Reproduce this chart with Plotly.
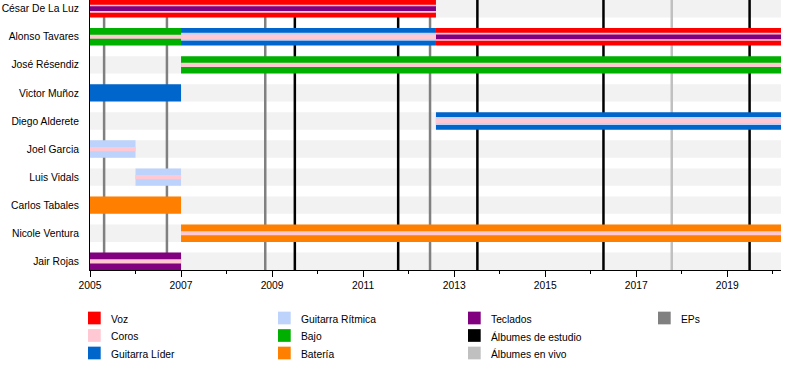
import plotly.graph_objects as go

# ---------------- data ----------------
END = 2020.18
START = 2005

members = ["César De La Luz", "Alonso Tavares", "José Résendiz", "Victor Muñoz",
           "Diego Alderete", "Joel Garcia", "Luis Vidals", "Carlos Tabales",
           "Nicole Ventura", "Jair Rojas"]

period_member = ["César De La Luz", "Alonso Tavares", "Alonso Tavares", "Alonso Tavares",
                 "José Résendiz", "Victor Muñoz", "Diego Alderete", "Joel Garcia",
                 "Luis Vidals", "Carlos Tabales", "Nicole Ventura", "Jair Rojas"]
period_start = [2005, 2005, 2007, 2012.6, 2007, 2005, 2012.6, 2005, 2006, 2005, 2007, 2005]
period_end = [2012.6, 2007, 2012.6, END, END, 2007, END, 2006, 2007, 2007, END, 2007]
period_roles = [
    ["Voz", "Coros", "Teclados"],
    ["Bajo", "Coros"],
    ["Guitarra Líder", "Guitarra Rítmica", "Coros"],
    ["Voz", "Coros", "Teclados"],
    ["Bajo", "Coros"],
    ["Guitarra Líder"],
    ["Guitarra Líder", "Guitarra Rítmica", "Coros"],
    ["Guitarra Rítmica", "Coros"],
    ["Guitarra Rítmica", "Coros"],
    ["Batería"],
    ["Batería", "Coros"],
    ["Teclados", "Coros"],
]

ep_dates = [2005.31, 2006.69, 2008.85, 2012.47]
studio_dates = [2009.50, 2011.77, 2013.51, 2016.28, 2019.49]
live_dates = [2017.78]

legend_labels = ["Voz", "Coros", "Guitarra Líder", "Guitarra Rítmica", "Bajo", "Batería",
                 "Teclados", "Álbumes de estudio", "Álbumes en vivo", "EPs"]

# ---------------- styles ----------------
colors = {
    "Voz": "#ff0000",
    "Coros": "#ffc8d2",
    "Guitarra Líder": "#0066cc",
    "Guitarra Rítmica": "#bdd3fb",
    "Bajo": "#00b000",
    "Batería": "#ff8000",
    "Teclados": "#800080",
    "Álbumes de estudio": "#000000",
    "Álbumes en vivo": "#c0c0c0",
    "EPs": "#808080",
}
role_order = ["Voz", "Guitarra Líder", "Guitarra Rítmica", "Bajo", "Batería", "Teclados", "Coros"]
level_widths = {1: [0.62], 2: [0.62, 0.15], 3: [0.62, 0.29, 0.17]}
BAND = 0.62
FONT = "Liberation Sans, Arial, sans-serif"
FS = 10.3

W, H = 800, 390
ML, MR, MT, MB = 90, 19, 0, 120
PW, PH = W - ML - MR, H - MT - MB

def px2x(px):
    return (px - ML) / PW

def px2y(py):
    return (H - MB - py) / PH

# ---------------- figure ----------------
fig = go.Figure()

groups = {}
for m, s, e, roles in zip(period_member, period_start, period_end, period_roles):
    widths = level_widths[len(roles)]
    for lvl, (r, w) in enumerate(zip(roles, widths)):
        g = groups.setdefault((lvl, r), {"y": [], "x": [], "base": [], "width": []})
        g["y"].append(members.index(m))
        g["x"].append(e - s)
        g["base"].append(s)
        g["width"].append(w)

for lvl in range(3):
    for r in role_order:
        g = groups.get((lvl, r))
        if not g:
            continue
        fig.add_trace(go.Bar(
            orientation="h", y=g["y"], x=g["x"], base=g["base"], width=g["width"],
            marker=dict(color=colors[r], line=dict(width=0)),
            name=r, showlegend=False, hoverinfo="skip",
        ))

y_lo, y_hi = -BAND / 2, len(members) - 1 + BAND / 2

shapes = []
for i, _ in enumerate(members):
    shapes.append(dict(type="rect", xref="x", yref="y", x0=START, x1=END,
                       y0=i - BAND / 2, y1=i + BAND / 2, fillcolor="#f2f2f2",
                       line=dict(width=0), layer="below"))
for dates, key in [(ep_dates, "EPs"), (studio_dates, "Álbumes de estudio"),
                   (live_dates, "Álbumes en vivo")]:
    for d in dates:
        shapes.append(dict(type="line", xref="x", yref="y", x0=d, x1=d, y0=y_lo, y1=y_hi,
                           line=dict(color=colors[key], width=2.5), layer="below"))

# manual legend (4 columns x 3 rows)
annotations = []
col_x = [88, 278, 468, 658]
row_y = [318, 335.5, 353]
SW = 12.7
for k, lab in enumerate(legend_labels):
    c, rr = divmod(k, 3)
    sx, sy = col_x[c], row_y[rr]
    shapes.append(dict(type="rect", xref="paper", yref="paper",
                       x0=px2x(sx), x1=px2x(sx + SW),
                       y0=px2y(sy + SW / 2), y1=px2y(sy - SW / 2),
                       fillcolor=colors[lab], line=dict(width=0)))
    annotations.append(dict(xref="paper", yref="paper", x=px2x(sx + 21), y=px2y(sy + 1),
                            text=lab, showarrow=False, xanchor="left", yanchor="middle",
                            font=dict(family=FONT, size=FS, color="#000000")))

fig.update_layout(
    width=W, height=H,
    margin=dict(l=ML, r=MR, t=MT, b=MB, pad=0),
    barmode="overlay",
    plot_bgcolor="white", paper_bgcolor="white",
    font=dict(family=FONT, size=FS, color="#000000"),
    shapes=shapes, annotations=annotations,
    showlegend=False,
    xaxis=dict(range=[START, END], showgrid=False, zeroline=False,
               showline=True, linecolor="black", linewidth=1,
               tick0=2005, dtick=2, ticks="outside", ticklen=6, tickcolor="black",
               tickwidth=1,
               minor=dict(tick0=2005, dtick=1, ticks="outside", ticklen=3,
                          tickcolor="black", showgrid=False),
               tickfont=dict(family=FONT, size=FS, color="#000000")),
    yaxis=dict(range=[y_hi, y_lo],
               tickvals=list(range(len(members))), ticktext=members,
               showgrid=False, zeroline=False, showline=True, linecolor="black",
               linewidth=1, ticks="", ticklabelstandoff=8,
               tickfont=dict(family=FONT, size=FS, color="#000000")),
)

fig.write_html("out.html", config={"displayModeBar": False},
               post_script="document.body.style.margin='0px';")
